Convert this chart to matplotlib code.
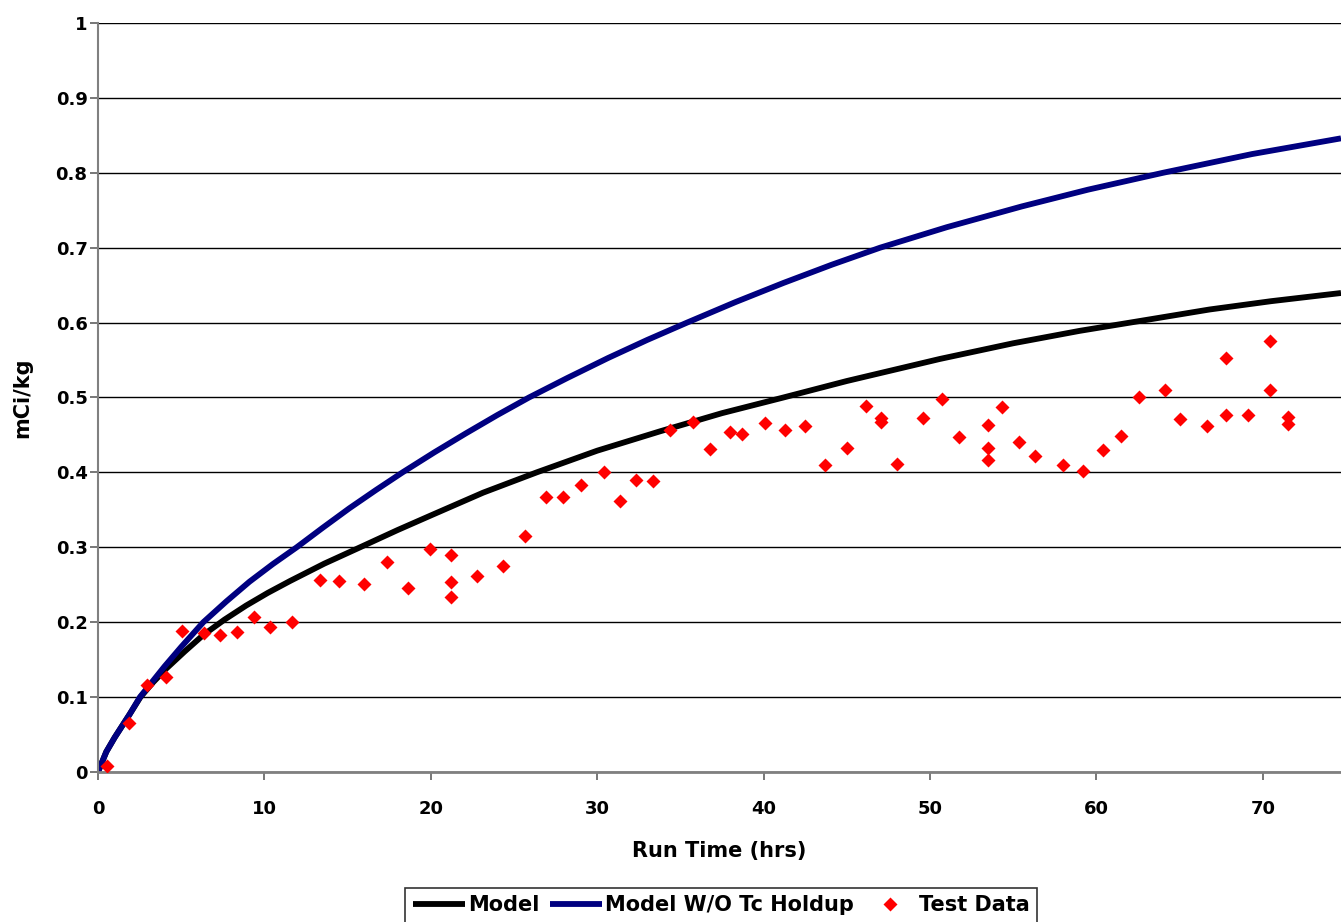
import matplotlib
matplotlib.use("Agg")
import matplotlib.pyplot as plt

plt.rcParams['font.family'] = ['DejaVu Sans']

# Model curve
model_t = [0, 0.5, 1, 1.9, 2.55, 3.3, 4.1, 5.2, 6.33, 7.6, 8.9, 10.2, 11.54, 13.6, 15.75, 18, 20,
           23.15, 26.36, 30, 33.8, 37.5, 41.19, 45, 50.6, 55, 59, 62.3, 66.8, 70.5, 74.7]
model_y = [0, 0.027, 0.046, 0.077, 0.1, 0.1195, 0.138, 0.1607, 0.183, 0.2034, 0.2222, 0.2391, 0.255,
           0.2782, 0.3, 0.323, 0.3425, 0.373, 0.4, 0.429, 0.455, 0.4791, 0.5, 0.522, 0.5515, 0.5724,
           0.589, 0.601, 0.6175, 0.6286, 0.6395]

# Model without Tc holdup
nohold_t = [0, 0.5, 1, 1.9, 2.52, 4, 5, 6.33, 7.7, 9.1, 10.5, 11.94, 13.5, 15.1, 16.7, 18.3, 20.2,
            22.1, 24, 25.9, 28.2, 30.65, 33, 35.4, 38.3, 41.2, 44.1, 47, 51, 55.5, 59.5, 64, 69.35, 74.7]
nohold_y = [0, 0.027, 0.046, 0.077, 0.1, 0.141, 0.167, 0.2, 0.2275, 0.254, 0.2775, 0.3, 0.326, 0.352,
            0.3764, 0.4, 0.4266, 0.452, 0.4766, 0.5, 0.526, 0.5527, 0.5768, 0.6, 0.6273, 0.653, 0.6773,
            0.7, 0.7273, 0.755, 0.7775, 0.8, 0.825, 0.846]

# test data
test_t = [0.54, 1.86, 2.94, 4.09, 5.05, 6.37, 7.33, 8.35, 9.38, 10.34, 11.66, 13.34, 14.48, 15.99,
          17.37, 18.63, 19.95, 21.21, 21.21, 21.21, 22.78, 24.34, 25.66, 26.92, 27.94, 29.03, 30.41,
          31.37, 32.33, 33.35, 34.38, 35.76, 36.78, 37.98, 38.70, 40.08, 41.29, 42.49, 43.69, 45.01,
          46.15, 47.06, 47.06, 48.02, 49.58, 50.72, 51.74, 53.49, 53.49, 53.49, 54.33, 55.35, 56.31,
          57.99, 59.19, 60.40, 61.48, 62.56, 64.12, 65.02, 66.65, 67.79, 67.79, 69.11, 70.43, 70.43,
          71.51, 71.51]
test_y = [0.008, 0.065, 0.116, 0.127, 0.188, 0.186, 0.183, 0.187, 0.207, 0.194, 0.200, 0.256, 0.255, 0.251,
          0.280, 0.246, 0.298, 0.290, 0.254, 0.234, 0.262, 0.275, 0.315, 0.367, 0.367, 0.383, 0.400,
          0.362, 0.390, 0.389, 0.457, 0.467, 0.431, 0.454, 0.451, 0.466, 0.457, 0.462, 0.410, 0.433,
          0.489, 0.473, 0.467, 0.411, 0.473, 0.498, 0.447, 0.463, 0.433, 0.417, 0.487, 0.441, 0.422,
          0.410, 0.402, 0.430, 0.449, 0.501, 0.510, 0.471, 0.462, 0.477, 0.553, 0.477, 0.575, 0.510,
          0.474, 0.465]

fig = plt.figure(figsize=(13.41, 9.22), dpi=100)
ax = fig.add_axes([98/1341, 1-772/922, 1-98/1341, (772-23)/922])

ax.plot(model_t, model_y, color='black', lw=4.2, label='Model', solid_capstyle='butt')
ax.plot(nohold_t, nohold_y, color='#000080', lw=4.2, label='Model W/O Tc Holdup', solid_capstyle='butt')
ax.plot(test_t, test_y, 'D', color='#ff0000', ms=7.2, mec='none', label='Test Data', zorder=5)

ax.set_xlim(0, 74.7)
ax.set_ylim(0, 1)
ax.set_xticks(range(0, 80, 10))
ax.set_yticks([0, 0.1, 0.2, 0.3, 0.4, 0.5, 0.6, 0.7, 0.8, 0.9, 1])
ax.set_yticklabels(['0', '0.1', '0.2', '0.3', '0.4', '0.5', '0.6', '0.7', '0.8', '0.9', '1'])
ax.yaxis.grid(True, color='black', lw=1)
ax.set_axisbelow(True)
for s in ['top', 'right']:
    ax.spines[s].set_visible(False)
ax.spines['left'].set_color('#808080')
ax.spines['bottom'].set_color('#808080')
ax.spines['left'].set_linewidth(1.5)
ax.spines['bottom'].set_linewidth(2)
ax.tick_params(direction='out', length=6, width=1.2, color='#606060', labelsize=13)
ax.tick_params(axis='x', pad=14)
ax.tick_params(axis='y', pad=1.5)
for lab in ax.get_xticklabels() + ax.get_yticklabels():
    lab.set_fontweight('bold')

ax.set_xlabel('Run Time (hrs)', fontsize=15, fontweight='bold', labelpad=17)
ax.set_ylabel('mCi/kg', fontsize=15, fontweight='bold', labelpad=17)

leg = fig.legend(loc='upper center', bbox_to_anchor=(0.538, 1-888/922), borderaxespad=0, ncol=3,
                 prop={'weight': 'bold', 'size': 15}, frameon=True, fancybox=False,
                 edgecolor='black', handlelength=2.5, handletextpad=0.15, columnspacing=0.5,
                 borderpad=0.35)
leg.get_frame().set_linewidth(1.2)

fig.savefig('out.png', dpi=100)
